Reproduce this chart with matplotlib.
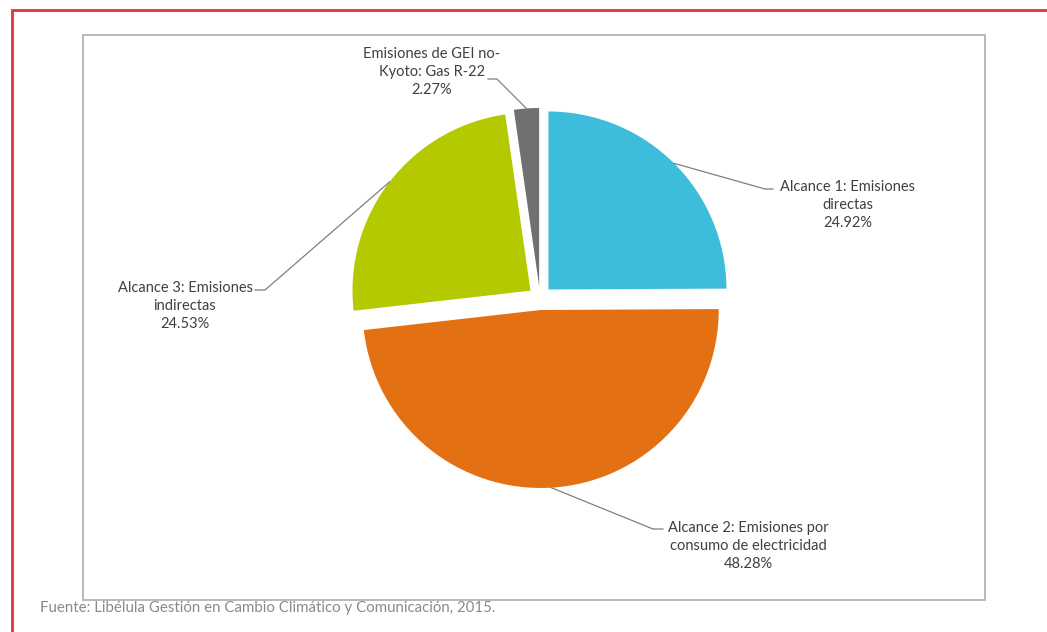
import numpy as np
import matplotlib.pyplot as plt
from matplotlib.patches import Rectangle

plt.rcParams['font.family'] = ['Lato', 'DejaVu Sans']

# datos del grafico
etiquetas = ['Alcance 1: Emisiones\ndirectas',
             'Alcance 2: Emisiones por\nconsumo de electricidad',
             'Alcance 3: Emisiones\nindirectas',
             'Emisiones de GEI no-\nKyoto: Gas R-22']
valores = [24.92, 48.28, 24.53, 2.27]
colores = ['#3dbcdc', '#e37114', '#b5c900', '#707070']
fuente = 'Fuente: Libélula Gestión en Cambio Climático y Comunicación, 2015.'

W, H = 1047, 632


def Y(y):
    # coordenadas de imagen (y hacia abajo) -> ejes
    return H - y


fig = plt.figure(figsize=(W / 100, H / 100), dpi=100)
ax = fig.add_axes([0, 0, 1, 1])

# marco rojo exterior y recuadro gris del grafico
ax.add_patch(Rectangle((12, Y(700)), 1100, 690, fill=False, edgecolor='#e0333c', lw=2))
ax.add_patch(Rectangle((83, Y(600)), 902, 565, fill=False, edgecolor='#b4b4b4', lw=1.3))

# explode en unidades de datos (pixeles), no fraccion del radio
wedges, _ = ax.pie(valores, colors=colores, startangle=90, counterclock=False,
                   explode=[12] * 4, radius=178, center=(540, Y(298)), frame=True,
                   wedgeprops=dict(linewidth=0))

# posiciones de etiquetas: (centro texto), (codo), (fin linea)
pos_texto = [(848, 205), (748, 546), (185, 306), (432, 72)]
codos = [((765, 189), (773, 189)), ((653, 529), (663, 529)),
         ((265, 290), (255, 290)), ((497, 79), (488, 79))]

for w, lab, v, pt, (k, e) in zip(wedges, etiquetas, valores, pos_texto, codos):
    ang = np.deg2rad((w.theta1 + w.theta2) / 2)
    cx, cy = w.center
    bx = cx + w.r * np.cos(ang)
    by = cy + w.r * np.sin(ang)
    ax.plot([bx, k[0], e[0]], [by, Y(k[1]), Y(e[1])], color='#7f7f7f', lw=0.9)
    ax.text(pt[0], Y(pt[1]), f'{lab}\n{v:.2f}%', ha='center', va='center',
            fontsize=10.5, color='#404040', linespacing=1.4)

ax.text(40, Y(608), fuente, ha='left', va='center', fontsize=10.8, color='#8a8a8a')

ax.set_xlim(0, W)
ax.set_ylim(0, H)
ax.set_axis_off()

plt.savefig('out.png', dpi=100)
